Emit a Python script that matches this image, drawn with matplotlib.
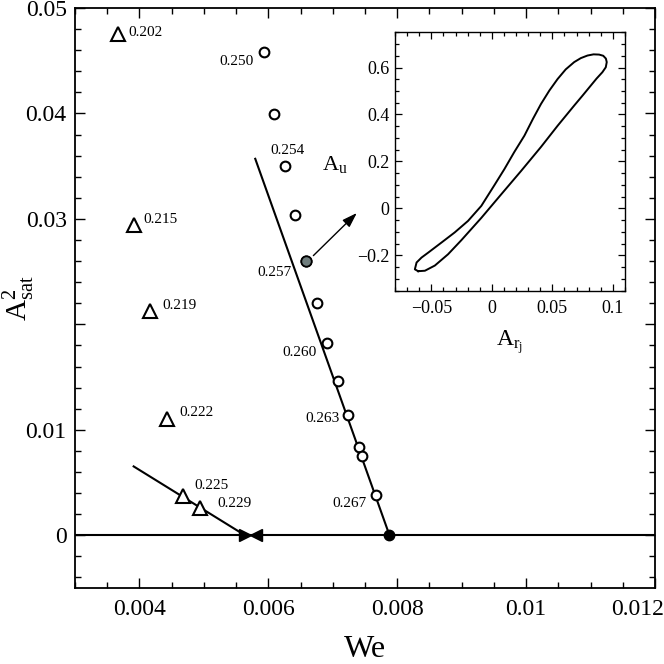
import matplotlib
matplotlib.use("Agg")
import matplotlib.pyplot as plt
from matplotlib.ticker import MultipleLocator

plt.rcParams['font.family'] = ['Liberation Serif', 'DejaVu Serif']
plt.rcParams['mathtext.fontset'] = 'custom'
plt.rcParams['mathtext.rm'] = 'Liberation Serif'
plt.rcParams['mathtext.it'] = 'Liberation Serif:italic'
plt.rcParams['mathtext.bf'] = 'Liberation Serif:bold'

# ---------------- data ----------------
# triangle branch (We, A_sat^2) with labels
tri_we = [0.00367, 0.00391, 0.00416, 0.00442, 0.00467, 0.00494]
tri_a2 = [0.0475, 0.0294, 0.02125, 0.01107, 0.00375, 0.00261]
tri_labels = ['0.202', '0.215', '0.219', '0.222', '0.225', '0.229']

# circle branch
cir_we = [0.005928, 0.006088, 0.006254, 0.006414, 0.006585, 0.006751,
          0.006917, 0.007078, 0.007243, 0.007404, 0.00746, 0.007673]
cir_a2 = [0.04579, 0.03992, 0.03503, 0.03033, 0.02598, 0.02198,
          0.01819, 0.01463, 0.01145, 0.00838, 0.00747, 0.00381]
cir_labels = ['0.250', None, '0.254', None, '0.257', None,
              '0.260', None, '0.263', None, None, '0.267']
highlight_idx = 4

# fitted lines
line_u_we = [0.005797, 0.00788]
line_u_a2 = [0.0357, 0.0]
line_t_we = [0.00391, 0.005637]
line_t_a2 = [0.00653, 0.0]

# bifurcation points on A=0
bif_filled_we = 0.00788
bif_right_we = 0.005637
bif_left_we = 0.005808

# arrow from highlighted point to inset
arrow_start = (0.006699, 0.02652)
arrow_end = (0.007373, 0.03056)

# inset limit cycle (A_rj, A_u)
loop_x = [-0.0609, -0.0636, -0.0622, -0.0581, -0.0526, -0.0416, -0.0307, -0.0197,
          -0.0087, 0.0022, 0.0104, 0.0185, 0.0269, 0.0340, 0.0406, 0.0475,
          0.0543, 0.0610, 0.0680, 0.0735, 0.0790, 0.0840,
          0.0886, 0.0920, 0.0942, 0.0949, 0.0941, 0.0913, 0.0865, 0.0817, 0.0750,
          0.0680, 0.0543, 0.0406, 0.0242, 0.0077, -0.0087, -0.0252, -0.0362,
          -0.0471, -0.0553, -0.0609]
loop_y = [-0.267, -0.259, -0.230, -0.209, -0.188, -0.145, -0.102, -0.053,
          0.011, 0.100, 0.168, 0.240, 0.310, 0.382, 0.445, 0.502,
          0.551, 0.592, 0.623, 0.640, 0.651, 0.656,
          0.655, 0.650, 0.638, 0.623, 0.601, 0.580, 0.553, 0.523, 0.481,
          0.438, 0.352, 0.262, 0.160, 0.060, -0.040, -0.135, -0.195,
          -0.243, -0.265, -0.267]

x_ticks = [0.004, 0.006, 0.008, 0.010, 0.012]
x_ticklabels = ['0.004', '0.006', '0.008', '0.01', '']
x_last_label = '0.012'
y_ticks = [0.0, 0.01, 0.02, 0.03, 0.04, 0.05]
y_ticklabels = ['0', '0.01', '', '0.03', '0.04', '0.05']
in_x_ticks = [-0.05, 0.0, 0.05, 0.1]
in_x_ticklabels = ['\u22120.05', '0', '0.05', '0.1']
in_y_ticks = [-0.2, 0.0, 0.2, 0.4, 0.6]
in_y_ticklabels = ['\u22120.2', '0', '0.2', '0.4', '0.6']

# label offsets (points)
tri_offsets = [(7, 1.4), (6.7, 3.8), (9.4, 4.3), (9.6, 4.3), (8.4, 7.2), (12.5, 3.4)]
cir_offsets = {0: (-7.5, -6.8, 'right'), 2: (1.9, 11, 'center'), 4: (-10.3, -7.9, 'right'),
               6: (-8.1, -6.3, 'right'), 8: (-6.5, -2.9, 'right'), 11: (-7.2, -5.8, 'right')}

# ---------------- figure ----------------
fig = plt.figure(figsize=(6.64, 6.64), dpi=100)
ax = fig.add_axes([0.11295, 0.11446, 0.8735, 0.8735])

ax.set_xlim(0.003, 0.012)
ax.set_ylim(-0.005, 0.05)

ax.axhline(0, color='black', lw=1.5, zorder=2)
ax.plot(line_u_we, line_u_a2, color='black', lw=1.5, zorder=2)
ax.plot(line_t_we, line_t_a2, color='black', lw=1.5, zorder=2)

ax.plot(tri_we, tri_a2, linestyle='none', marker='^', ms=10.5, mfc='white',
        mec='black', mew=1.5, zorder=3)
ax.plot(cir_we, cir_a2, linestyle='none', marker='o', ms=7, mfc='white',
        mec='black', mew=1.5, zorder=3)
ax.plot([cir_we[highlight_idx]], [cir_a2[highlight_idx]], linestyle='none', marker='o',
        ms=7.5, mfc='#6f7d7d', mec='black', mew=1.3, zorder=4)
ax.plot([bif_filled_we], [0], linestyle='none', marker='o', ms=7.5, color='black', zorder=4)
ax.plot([bif_right_we], [0], linestyle='none', marker='>', ms=8.5, color='black', zorder=4)
ax.plot([bif_left_we], [0], linestyle='none', marker='<', ms=8.5, color='black', zorder=4)

for x, y, lab, off in zip(tri_we, tri_a2, tri_labels, tri_offsets):
    ax.annotate(lab, (x, y), xytext=off, textcoords='offset points',
                ha='left', va='center', fontsize=11)
for i, (dx, dy, ha) in cir_offsets.items():
    ax.annotate(cir_labels[i], (cir_we[i], cir_a2[i]), xytext=(dx, dy),
                textcoords='offset points', ha=ha, va='center', fontsize=11)

ax.annotate('', xy=arrow_end, xytext=arrow_start,
            arrowprops=dict(arrowstyle='-|>,head_length=0.9,head_width=0.3',
                            color='black', lw=1.0, shrinkA=0, shrinkB=0))
ax.text(0.00683, 0.03513, r'$\mathrm{A_u}$', fontsize=16, ha='left', va='center')

ax.set_xticks(x_ticks, x_ticklabels)
ax.set_yticks(y_ticks, y_ticklabels)
ax.xaxis.set_minor_locator(MultipleLocator(0.0005))
ax.yaxis.set_minor_locator(MultipleLocator(0.002))
ax.tick_params(which='both', direction='in', top=True, right=True, labelsize=17, width=1.0)
ax.tick_params(which='major', length=7)
ax.tick_params(which='minor', length=4.5)
ax.tick_params(axis='x', which='major', pad=8)
ax.tick_params(axis='y', which='major', pad=6)
for s in ax.spines.values():
    s.set_linewidth(1.3)
# last x tick label pushed inside the figure edge
ax.annotate(x_last_label, xy=(x_ticks[-1], 0), xycoords=ax.get_xaxis_transform(),
            xytext=(6.5, -8), textcoords='offset points', ha='right', va='top',
            fontsize=17, annotation_clip=False)

ax.set_xlabel('We', fontsize=23, labelpad=11)
ax.set_ylabel(r'$\mathrm{A^2_{sat}}$', fontsize=21)
ax.yaxis.set_label_coords(-0.066, 0.5)

# ---------------- inset ----------------
ins = fig.add_axes([0.5949, 0.5622, 0.3464, 0.3892])
ins.plot(loop_x, loop_y, color='black', lw=1.4, solid_joinstyle='round')
ins.set_xlim(-0.08, 0.11)
ins.set_ylim(-0.35, 0.75)
ins.set_xticks(in_x_ticks, in_x_ticklabels)
ins.set_yticks(in_y_ticks, in_y_ticklabels)
ins.xaxis.set_minor_locator(MultipleLocator(0.01))
ins.yaxis.set_minor_locator(MultipleLocator(0.05))
ins.tick_params(which='both', direction='in', top=True, right=True, labelsize=13, width=0.9)
ins.tick_params(which='major', length=5)
ins.tick_params(which='minor', length=3)
ins.tick_params(axis='x', which='major', pad=7)
ins.tick_params(axis='y', which='major', pad=4)
for s in ins.spines.values():
    s.set_linewidth(1.0)
ins.set_xlabel(r'$\mathrm{A_{r_j}}$', fontsize=17, labelpad=8)

fig.savefig('out.png', dpi=100)
